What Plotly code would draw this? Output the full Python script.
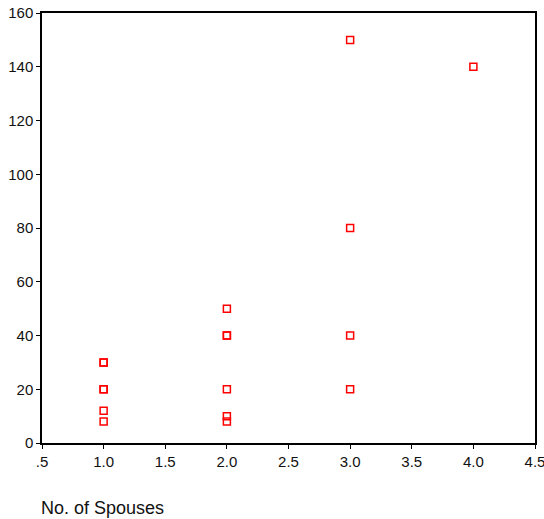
import plotly.graph_objects as go

spouses = [1, 1, 1, 1, 1, 1, 2, 2, 2, 2, 2, 2, 3, 3, 3, 3, 4]
values  = [30, 30, 20, 20, 12, 8, 50, 40, 40, 20, 10, 8, 150, 80, 40, 20, 140]

x_ticks = [0.5, 1.0, 1.5, 2.0, 2.5, 3.0, 3.5, 4.0, 4.5]
x_labels = [".5", "1.0", "1.5", "2.0", "2.5", "3.0", "3.5", "4.0", "4.5"]
y_ticks = [0, 20, 40, 60, 80, 100, 120, 140, 160]
x_title = "No. of Spouses"

fig = go.Figure(go.Scatter(
    x=spouses, y=values, mode="markers",
    marker=dict(symbol="square-open", size=7, color="#ff0000", line=dict(width=1.5, color="#ff0000")),
    hoverinfo="x+y",
))

axis_common = dict(
    showgrid=False, zeroline=False, showline=True, linecolor="black", linewidth=1.5,
    mirror=True, ticks="outside", ticklen=4, tickcolor="black", tickwidth=1,
    automargin=False, ticklabeloverflow="allow",
    tickfont=dict(family="Liberation Sans, Arial", size=15, color="#111"),
)

fig.update_layout(
    width=544, height=519, autosize=False,
    margin=dict(l=42, r=9, t=13, b=76, autoexpand=False),
    plot_bgcolor="white", paper_bgcolor="white",
    showlegend=False,
    xaxis=dict(range=[0.5, 4.5], tickvals=x_ticks, ticktext=x_labels, **axis_common),
    yaxis=dict(range=[0, 160], tickvals=y_ticks, **axis_common),
    annotations=[dict(
        text=x_title, xref="paper", yref="paper", x=0, y=-0.151,
        xanchor="left", yanchor="middle", xshift=-3, showarrow=False,
        font=dict(family="Liberation Sans, Arial", size=18, color="#111"),
    )],
)

fig.write_html("out.html")
